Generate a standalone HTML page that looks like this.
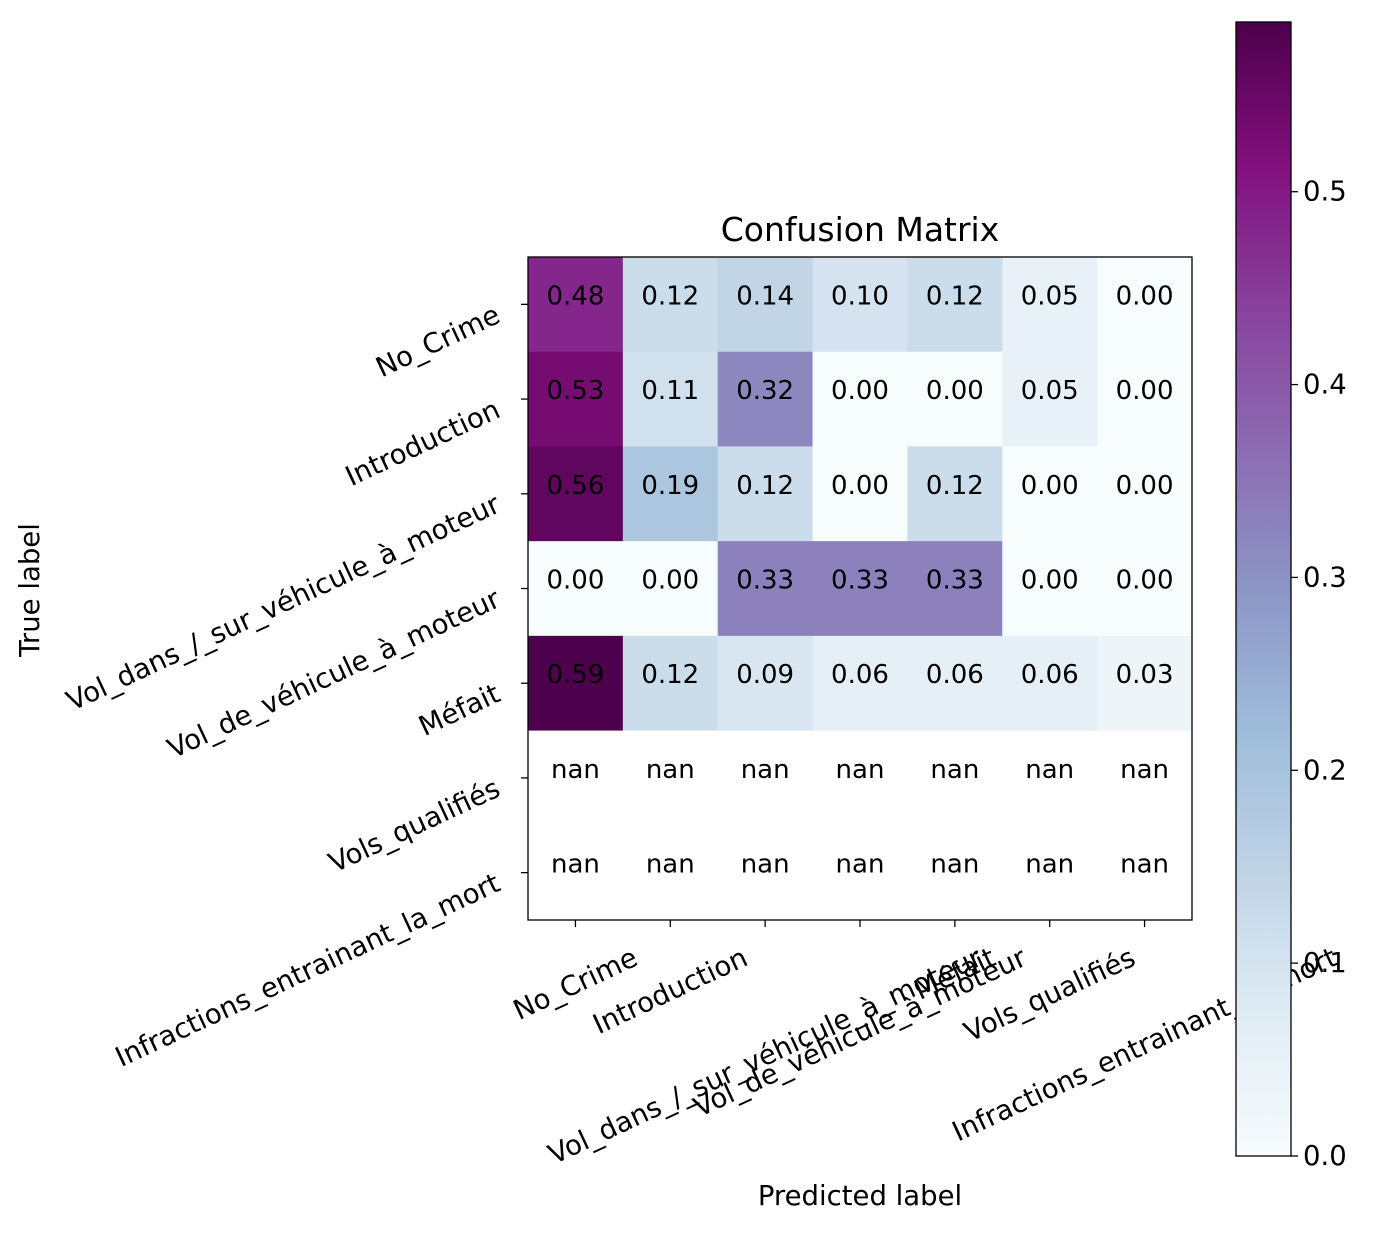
<!DOCTYPE html>
<html><head><meta charset="utf-8"><style>
body{margin:0;background:#fff;}
svg text{font-family:"DejaVu Sans","Liberation Sans",sans-serif;fill:#000;}
</style></head><body>
<svg id="chart" width="1375" height="1232" xmlns="http://www.w3.org/2000/svg">
<defs><linearGradient id="cbg" x1="0" y1="1" x2="0" y2="0">
<stop offset="0" stop-color="#f7fcfd"/><stop offset="0.125" stop-color="#e0ecf4"/><stop offset="0.25" stop-color="#bfd3e6"/><stop offset="0.375" stop-color="#9ebcda"/><stop offset="0.5" stop-color="#8c96c6"/><stop offset="0.625" stop-color="#8c6bb1"/><stop offset="0.75" stop-color="#88419d"/><stop offset="0.875" stop-color="#810f7c"/><stop offset="1" stop-color="#4d004b"/>
</linearGradient></defs>
<g id="cells"></g>
<g id="labels"></g>
</svg>
<script>
const categories = ["No_Crime","Introduction","Vol_dans_/_sur_véhicule_à_moteur","Vol_de_véhicule_à_moteur","Méfait","Vols_qualifiés","Infractions_entrainant_la_mort"];
const row0 = [0.48,0.12,0.14,0.10,0.12,0.05,0.00];
const row1 = [0.53,0.11,0.32,0.00,0.00,0.05,0.00];
const row2 = [0.56,0.19,0.12,0.00,0.12,0.00,0.00];
const row3 = [0.00,0.00,0.33,0.33,0.33,0.00,0.00];
const row4 = [0.59,0.12,0.09,0.06,0.06,0.06,0.03];
const row5 = [NaN,NaN,NaN,NaN,NaN,NaN,NaN];
const row6 = [NaN,NaN,NaN,NaN,NaN,NaN,NaN];
const matrix = [row0,row1,row2,row3,row4,row5,row6];
const cbTicks = [0.0,0.1,0.2,0.3,0.4,0.5];
const vmax = 0.588;

const NS="http://www.w3.org/2000/svg";
const cellsG=document.getElementById('cells');
const labG=document.getElementById('labels');
const L=528,T=257,R=1192,B=920,n=categories.length;
const cw=(R-L)/n,ch=(B-T)/n;
const xc=i=>L+cw*(i+0.5), yc=i=>T+ch*(i+0.5);
const FS=26, TFS=27.5;
const stops=["#f7fcfd","#e0ecf4","#bfd3e6","#9ebcda","#8c96c6","#8c6bb1","#88419d","#810f7c","#4d004b"];
function hex(h){return [1,3,5].map(k=>parseInt(h.substr(k,2),16));}
function cmap(t){t=Math.max(0,Math.min(1,t));const p=t*8,i=Math.min(7,Math.floor(p)),f=p-i;const a=hex(stops[i]),b=hex(stops[i+1]);return 'rgb('+a.map((v,k)=>Math.round(v+(b[k]-v)*f)).join(',')+')';}
function mk(tag,attrs,parent){const e=document.createElementNS(NS,tag);for(const k in attrs)e.setAttribute(k,attrs[k]);parent.appendChild(e);return e;}
const CB_B=1156,CB_T=22,CBX=1236,CBW=55;
const cy=v=>CB_B-(v/vmax)*(CB_B-CB_T);

matrix.forEach((row,r)=>row.forEach((v,c)=>{
  const rect=mk('rect',{x:L+cw*c,y:T+ch*r,width:cw+0.5,height:ch+0.5,fill:isNaN(v)?'#ffffff':cmap(v/vmax)},cellsG);
  
  
  const t=mk('text',{x:xc(c),y:yc(r)-8,'text-anchor':'middle','dominant-baseline':'central','font-size':FS},cellsG);
  t.textContent=isNaN(v)?'nan':v.toFixed(2);
  
  
}));
const frame=mk('rect',{x:L,y:T,width:R-L,height:B-T,fill:'none',stroke:'#000','stroke-width':1.3},labG);



const title=mk('text',{x:(L+R)/2,y:241,'text-anchor':'middle','font-size':33},labG);
title.textContent='Confusion Matrix';



const ang=25*Math.PI/180;
categories.forEach((cat,i)=>{
  mk('line',{x1:xc(i),x2:xc(i),y1:B,y2:B+7,stroke:'#000','stroke-width':1.3},labG);
  const tx=mk('text',{'font-size':TFS,'text-anchor':'middle','dominant-baseline':'central'},labG);
  tx.textContent=cat;
  
  
  const w=tx.getComputedTextLength(),h=22;
  const bh=w*Math.sin(ang)+h*Math.cos(ang);
  const cyy=B+26+bh/2;
  tx.setAttribute('transform','translate('+xc(i)+','+cyy+') rotate(-25)');

  mk('line',{x1:L-7,x2:L,y1:yc(i),y2:yc(i),stroke:'#000','stroke-width':1.3},labG);
  const ty=mk('text',{'font-size':TFS,'text-anchor':'end',transform:'translate('+(L-26)+','+(yc(i)+17)+') rotate(-25)'},labG);
  ty.textContent=cat;
  
  
});
const xt=mk('text',{x:(L+R)/2,y:1205,'text-anchor':'middle','font-size':TFS},labG);
xt.textContent='Predicted label';


const yt=mk('text',{'text-anchor':'middle','font-size':TFS,transform:'translate(39,590) rotate(-90)'},labG);
yt.textContent='True label';



const cb=mk('rect',{x:CBX,y:CB_T,width:CBW,height:CB_B-CB_T,fill:'url(#cbg)',stroke:'#000','stroke-width':1.3},labG);


cbTicks.forEach(v=>{
  mk('line',{x1:CBX+CBW,x2:CBX+CBW+7,y1:cy(v),y2:cy(v),stroke:'#000','stroke-width':1.3},labG);
  const t=mk('text',{x:CBX+CBW+12,y:cy(v),'dominant-baseline':'central','font-size':TFS},labG);
  t.textContent=v.toFixed(1);
  
  
});
</script>
</body></html>
